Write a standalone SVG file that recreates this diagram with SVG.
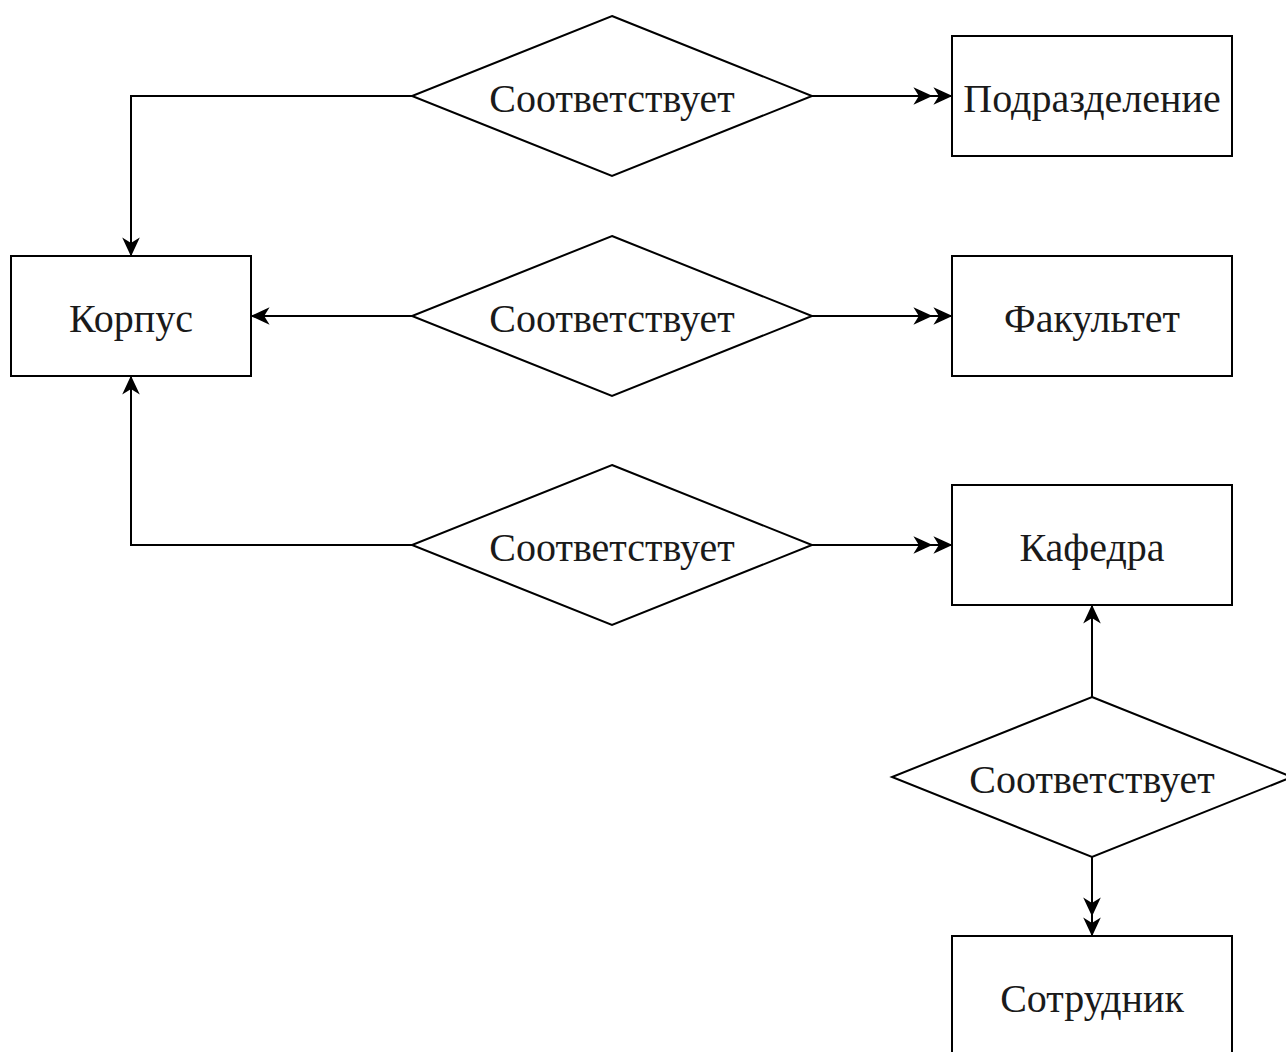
<svg xmlns="http://www.w3.org/2000/svg" width="1286" height="1052" viewBox="0 0 1286 1052">
  <style>
    .shape { fill: #ffffff; stroke: #000000; stroke-width: 2; }
    .edge { fill: none; stroke: #000000; stroke-width: 2; }
    .head { fill: #000000; stroke: #000000; stroke-width: 2; stroke-linejoin: miter; }
    .label { font-family: "Liberation Serif", "Times New Roman", serif; font-size: 40px; fill: #1a1a1a; text-anchor: middle; }
  </style>
  <defs>
    <!-- single classic arrowhead, tip at the path end -->
    <marker id="arrow" markerUnits="userSpaceOnUse" viewBox="-20 -10 22 20" refX="0" refY="0" markerWidth="22" markerHeight="20" orient="auto" overflow="visible">
      <path class="head" d="M-1,0 L-15,-6.5 L-11,0 L-15,6.5 Z"/>
    </marker>
    <!-- double classic arrowhead for the "many" side -->
    <marker id="arrow2" markerUnits="userSpaceOnUse" viewBox="-38 -10 40 20" refX="0" refY="0" markerWidth="40" markerHeight="20" orient="auto" overflow="visible">
      <path class="head" d="M-1,0 L-15,-6.5 L-11,0 L-15,6.5 Z M-21,0 L-35,-6.5 L-31,0 L-35,6.5 Z"/>
    </marker>
  </defs>

  <g id="connectors">
    <path class="edge" d="M412,96 H131 V255" marker-end="url(#arrow)"/>
    <path class="edge" d="M812,96 H951" marker-end="url(#arrow2)"/>
    <path class="edge" d="M412,316 H252" marker-end="url(#arrow)"/>
    <path class="edge" d="M812,316 H951" marker-end="url(#arrow2)"/>
    <path class="edge" d="M412,545 H131 V377" marker-end="url(#arrow)"/>
    <path class="edge" d="M812,545 H951" marker-end="url(#arrow2)"/>
    <path class="edge" d="M1092,697 V606" marker-end="url(#arrow)"/>
    <path class="edge" d="M1092,857 V935" marker-end="url(#arrow2)"/>
  </g>

  <g id="rel-podrazdelenie">
    <polygon class="shape" points="612,16 812,96 612,176 412,96"/>
    <text class="label" x="612" y="112">Соответствует</text>
  </g>
  <g id="rel-fakultet">
    <polygon class="shape" points="612,236 812,316 612,396 412,316"/>
    <text class="label" x="612" y="332">Соответствует</text>
  </g>
  <g id="rel-kafedra">
    <polygon class="shape" points="612,465 812,545 612,625 412,545"/>
    <text class="label" x="612" y="561">Соответствует</text>
  </g>
  <g id="rel-sotrudnik">
    <polygon class="shape" points="1092,697 1292,777 1092,857 892,777"/>
    <text class="label" x="1092" y="793">Соответствует</text>
  </g>

  <g id="podrazdelenie">
    <rect class="shape" x="952" y="36" width="280" height="120"/>
    <text class="label" x="1092" y="112">Подразделение</text>
  </g>
  <g id="korpus">
    <rect class="shape" x="11" y="256" width="240" height="120"/>
    <text class="label" x="131" y="332">Корпус</text>
  </g>
  <g id="fakultet">
    <rect class="shape" x="952" y="256" width="280" height="120"/>
    <text class="label" x="1092" y="332">Факультет</text>
  </g>
  <g id="kafedra">
    <rect class="shape" x="952" y="485" width="280" height="120"/>
    <text class="label" x="1092" y="561">Кафедра</text>
  </g>
  <g id="sotrudnik">
    <rect class="shape" x="952" y="936" width="280" height="120"/>
    <text class="label" x="1092" y="1012">Сотрудник</text>
  </g>
</svg>
